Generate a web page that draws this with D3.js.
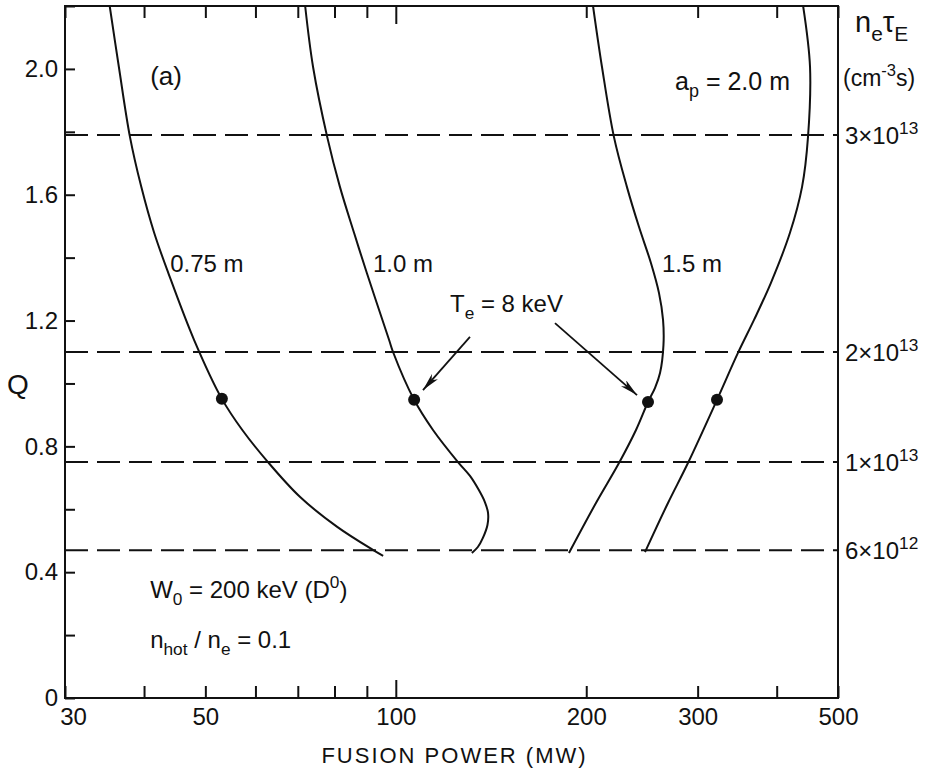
<!DOCTYPE html>
<html>
<head>
<meta charset="utf-8">
<script src="https://cdn.jsdelivr.net/npm/d3@7"></script>
<style>
  body { margin: 0; background: #fff; }
  svg text { font-family: "Liberation Sans", Arial, sans-serif; fill: #111; }
</style>
</head>
<body>
<div id="chart"></div>
<script>
// Q against fusion power, one curve per plasma radius a_p
var p075 = [35.3, 36.5, 38.0, 39.6, 41.5, 43.7, 48.0, 53.1, 57.2, 62.8, 70.6, 80.8, 92.0, 95.5];
var q075 = [2.2, 2.006, 1.784, 1.625, 1.479, 1.351, 1.138, 0.951, 0.852, 0.75, 0.639, 0.544, 0.471, 0.452];

var p100 = [71.9, 74.0, 77.9, 81.6, 85.9, 90.0, 97.6, 99.0, 106.9, 114.5, 125.4, 131.0, 135.3, 138.3, 139.9, 139.6, 137.3, 134.8, 131.9];
var q100 = [2.2, 2.006, 1.784, 1.625, 1.479, 1.351, 1.138, 1.10, 0.948, 0.852, 0.75, 0.706, 0.661, 0.623, 0.588, 0.55, 0.509, 0.48, 0.461];

var p150 = [205.0, 211.8, 221.2, 231.9, 242.3, 253.1, 260.6, 264.5, 264.9, 261.6, 256.9, 250.4, 239.7, 225.3, 207.2, 187.8];
var q150 = [2.2, 2.006, 1.784, 1.625, 1.498, 1.383, 1.288, 1.202, 1.122, 1.033, 0.986, 0.941, 0.852, 0.747, 0.62, 0.461];

var p200 = [440.4, 451.6, 448.3, 438.7, 419.8, 391.7, 368.3, 347.4, 321.9, 289.6, 269.3, 247.7];
var q200 = [2.2, 2.006, 1.784, 1.625, 1.479, 1.32, 1.202, 1.097, 0.948, 0.747, 0.62, 0.464];

// T_e = 8 keV points
var dotP = [53.1, 106.9, 250.4, 321.9];
var dotQ = [0.951, 0.948, 0.941, 0.948];

// n_e tau_E contours (dashed)
var ntauQ = [0.47, 0.75, 1.10, 1.79];
var ntauMant = ["6", "1", "2", "3"];
var ntauExp = ["12", "13", "13", "13"];

var xTicks = [30, 40, 50, 60, 70, 80, 90, 100, 200, 300, 400, 500];
var xLabels = [30, 50, 100, 200, 300, 500];
var yTicks = [0, 0.2, 0.4, 0.6, 0.8, 1.0, 1.2, 1.4, 1.6, 1.8, 2.0, 2.2];
var yLabels = [0, 0.4, 0.8, 1.2, 1.6, 2.0];

var margin = {top: 6, right: 91, bottom: 82, left: 65},
    width = 929 - margin.left - margin.right,
    height = 780 - margin.top - margin.bottom;

var svg = d3.select('#chart').append('svg')
    .attr('width', 929)
    .attr('height', 780);

var g = svg.append('g')
    .attr('transform', 'translate(' + margin.left + ',' + margin.top + ')');

var x = d3.scaleLog().domain([30, 500]).range([0, width]);
var y = d3.scaleLinear().domain([0, 2.2]).range([height, 0]);

var defs = svg.append('defs');
defs.append('clipPath').attr('id', 'plot')
  .append('rect').attr('width', width).attr('height', height);

defs.append('marker')
    .attr('id', 'head')
    .attr('viewBox', '0 0 18 8')
    .attr('refX', 18).attr('refY', 4)
    .attr('markerWidth', 18).attr('markerHeight', 8)
    .attr('markerUnits', 'userSpaceOnUse')
    .attr('orient', 'auto')
  .append('path')
    .attr('d', 'M0,0 L18,4 L0,8 L5,4 Z')
    .attr('fill', '#111');

// axes
var axisB = d3.axisBottom(x).tickValues(xTicks).tickSize(-12).tickPadding(10)
    .tickFormat(function(d) { return xLabels.indexOf(d) >= 0 ? d : ''; });
var gx = g.append('g').attr('transform', 'translate(0,' + height + ')').call(axisB);

var axisT = d3.axisTop(x).tickValues(xTicks).tickSize(-12).tickFormat('');
var gt = g.append('g').call(axisT);

var axisL = d3.axisLeft(y).tickValues(yTicks).tickSize(-10).tickPadding(7)
    .tickFormat(function(d) {
      if (yLabels.indexOf(d) < 0) return '';
      return d === 0 ? '0' : d3.format('.1f')(d);
    });
var gy = g.append('g').call(axisL);

[gx, gt, gy].forEach(function(a) {
  a.select('.domain').remove();
  a.selectAll('line').attr('stroke', '#111').attr('stroke-width', 2);
  a.selectAll('text').style('font-size', '24px').attr('fill', '#111');
});
gx.selectAll('.tick').filter(function(d) { return d === 100; }).select('line').attr('y2', -18);
gt.selectAll('.tick').filter(function(d) { return d === 100; }).select('line').attr('y2', 18);
gx.selectAll('.tick').filter(function(d) { return d === 30; }).select('text').attr('dx', 8);

g.append('rect')
    .attr('width', width).attr('height', height)
    .attr('fill', 'none').attr('stroke', '#111').attr('stroke-width', 2);

// dashed n_e tau_E lines
g.selectAll('.ntau').data(ntauQ).enter().append('line')
    .attr('x1', 0).attr('x2', width)
    .attr('y1', function(d) { return y(d); })
    .attr('y2', function(d) { return y(d); })
    .attr('stroke', '#111').attr('stroke-width', 2)
    .attr('stroke-dasharray', '23,9');

// curves
var curves = [[p075, q075], [p100, q100], [p150, q150], [p200, q200]].map(function(c) {
  return c[0].map(function(p, i) { return [p, c[1][i]]; });
});
var line = d3.line()
    .x(function(d) { return x(d[0]); })
    .y(function(d) { return y(d[1]); })
    .curve(d3.curveCatmullRom.alpha(0.5));

g.append('g').attr('clip-path', 'url(#plot)')
  .selectAll('path').data(curves).enter().append('path')
    .attr('d', line)
    .attr('fill', 'none').attr('stroke', '#111').attr('stroke-width', 2);

g.selectAll('.dot').data(dotP).enter().append('circle')
    .attr('cx', function(d) { return x(d); })
    .attr('cy', function(d, i) { return y(dotQ[i]); })
    .attr('r', 6).attr('fill', '#111');

// arrows to the T_e = 8 keV points
var arrows = [[[131.0, 1.148], [110.4, 0.979]], [[178.5, 1.192], [240.6, 0.963]]];
g.selectAll('.arrow').data(arrows).enter().append('line')
    .attr('x1', function(d) { return x(d[0][0]); })
    .attr('y1', function(d) { return y(d[0][1]); })
    .attr('x2', function(d) { return x(d[1][0]); })
    .attr('y2', function(d) { return y(d[1][1]); })
    .attr('stroke', '#111').attr('stroke-width', 1.8)
    .attr('marker-end', 'url(#head)');

// text with sub/superscripts
function rich(sel, parts, size) {
  var shift = 0;
  parts.forEach(function(p) {
    var target = p[1] === 'sub' ? size * 0.3 : (p[1] === 'sup' ? -size * 0.42 : 0);
    var t = sel.append('tspan').text(p[0]).attr('dy', target - shift);
    if (p[1] !== 'n') t.style('font-size', (size * 0.72) + 'px');
    shift = target;
  });
}
function label(px, q, parts, size) {
  var t = g.append('text').attr('x', x(px)).attr('y', y(q)).style('font-size', size + 'px');
  rich(t, parts, size);
  return t;
}

label(40.9, 1.949, [['(a)', 'n']], 26);
label(44.0, 1.355, [['0.75 m', 'n']], 24);
label(92.0, 1.355, [['1.0 m', 'n']], 24);
label(263.5, 1.355, [['1.5 m', 'n']], 24);
label(276.3, 1.933, [['a', 'n'], ['p', 'sub'], [' = 2.0 m', 'n']], 25);
label(121.8, 1.227, [['T', 'n'], ['e', 'sub'], [' = 8 keV', 'n']], 24);
label(40.9, 0.318, [['W', 'n'], ['0', 'sub'], [' = 200 keV (D', 'n'], ['0', 'sup'], [')', 'n']], 24);
label(40.9, 0.159, [['n', 'n'], ['hot', 'sub'], [' / n', 'n'], ['e', 'sub'], [' = 0.1', 'n']], 24);

// right-hand n_e tau_E labels
g.selectAll('.ntaulab').data(ntauQ).enter().append('text')
    .attr('x', width + 7)
    .attr('y', function(d) { return y(d) + 9; })
    .style('font-size', '24px')
    .each(function(d, i) {
      rich(d3.select(this), [[ntauMant[i] + '\u00d7' + '10', 'n'], [ntauExp[i], 'sup']], 24);
    });

var hdr = g.append('text').attr('x', width + 17).attr('y', 26).style('font-size', '29px');
rich(hdr, [['n', 'n'], ['e', 'sub'], ['\u03c4', 'n'], ['E', 'sub']], 29);
var unit = g.append('text').attr('x', width + 5).attr('y', 80).style('font-size', '23px');
rich(unit, [['(cm', 'n'], ['-3', 'sup'], ['s)', 'n']], 23);

// axis titles
svg.append('text').attr('x', 18).attr('y', 394)
    .attr('text-anchor', 'middle').style('font-size', '28px').text('Q');
svg.append('text').attr('x', margin.left + x(Math.sqrt(30 * 500)) + 3).attr('y', 763)
    .attr('text-anchor', 'middle').style('font-size', '22px')
    .style('letter-spacing', '2px').text('FUSION POWER (MW)');
</script>
</body>
</html>
